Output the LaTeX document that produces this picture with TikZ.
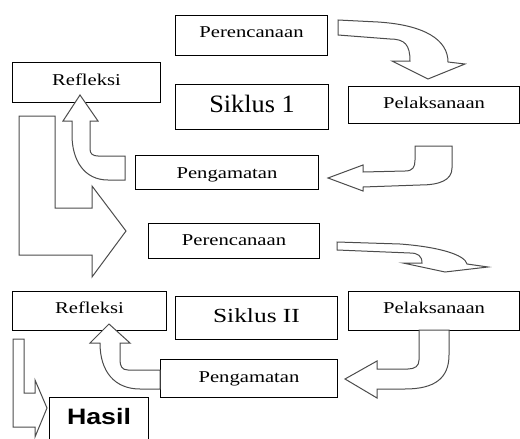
\documentclass[tikz,border=0pt]{standalone}
\usepackage{fontspec}
\usepackage{graphicx}
\setmainfont{Liberation Serif}
\newfontfamily\hasilfont{Liberation Sans}
\newcommand{\lebar}[2]{\scalebox{#1}[1]{#2}}
\tikzset{
	kotak/.style = {draw, line width=1pt, inner sep=0pt, anchor=north west,
		font=\fontsize{16.5}{18}\selectfont},
	panah/.style = {draw=black!70, fill=white, line width=1pt, line join=miter}
}
\begin{document}
\begin{tikzpicture}[x=1pt, y=-1pt]
%	\draw[help lines] (0,0) grid (520,439);
	\useasboundingbox (0,0) rectangle (520,439);
	% siklus I
	\node [kotak, minimum width=152pt, text height=22pt, text depth=18pt] (ren1) at (175,15) {\lebar{1.25}{Perencanaan}};
	\node [kotak, minimum width=148pt, text height=23pt, text depth=17pt] (ref1) at (12,62) {\lebar{1.25}{Refleksi}};
	\node [kotak, minimum width=153pt, text height=28pt, text depth=17pt, font=\fontsize{25}{28}\selectfont] (sik1) at (175,84) {\lebar{1.05}{Siklus 1}};
	\node [kotak, minimum width=171pt, text height=22pt, text depth=15pt] (pel1) at (348,86) {\lebar{1.25}{Pelaksanaan}};
	\node [kotak, minimum width=183pt, text height=23pt, text depth=11pt] (pen1) at (135,155) {\lebar{1.25}{Pengamatan}};
	% siklus II
	\node [kotak, minimum width=171pt, text height=22pt, text depth=13pt] (ren2) at (148,223) {\lebar{1.25}{Perencanaan}};
	\node [kotak, minimum width=154pt, text height=22pt, text depth=17pt] (ref2) at (12,291) {\lebar{1.25}{Refleksi}};
	\node [kotak, minimum width=162pt, text height=26pt, text depth=17pt, font=\fontsize{20}{24}\selectfont] (sik2) at (175,296) {\lebar{1.27}{Siklus II}};
	\node [kotak, minimum width=171pt, text height=22pt, text depth=17pt] (pel2) at (348,291) {\lebar{1.25}{Pelaksanaan}};
	\node [kotak, minimum width=177pt, text height=23pt, text depth=15pt] (pen2) at (160,359) {\lebar{1.25}{Pengamatan}};
	\node [kotak, minimum width=99pt, text height=27pt, text depth=21pt, font=\hasilfont\bfseries\fontsize{22.3}{26}\selectfont] (hasil) at (49,397) {\lebar{1.2}{Hasil}};
	% panah siklus I
	\draw [panah] (338,20) -- (378,22) .. controls (425,25) and (448,40) .. (448,62) -- (465,64) -- (428,79) -- (392,61) -- (410,61) .. controls (410,45) and (405,39) .. (390,39) -- (338,35) -- cycle;
	\draw [panah] (415,146) -- (452,146) -- (452,168) .. controls (452,180) and (440,185) .. (420,185) -- (363,187) -- (363,191) -- (328,178) -- (363,165) -- (363,172) -- (405,171) .. controls (413,171) and (415,167) .. (415,160) -- cycle;
	\draw [panah] (125,156) -- (125,180) -- (108,180) .. controls (84,180) and (72,160) .. (72,135) -- (72,121) -- (63,121) -- (80,95) -- (98,121) -- (90,121) -- (90,149) .. controls (90,154) and (93,156) .. (98,156) -- cycle;
	\draw [panah] (19,116) -- (55,116) -- (55,208) -- (92,208) -- (92,186) -- (126,231) -- (92,277) -- (92,255) -- (19,255) -- cycle;
	% panah siklus II
	\draw [panah] (337,242) -- (400,244) .. controls (440,247) and (465,255) .. (467,264) -- (488,267) -- (445,272) -- (403,263) -- (422,263) .. controls (422,256) and (418,253) .. (410,253) -- (337,250) -- cycle;
	\draw [panah] (419,330) -- (419,360) .. controls (419,366) and (415,369) .. (408,369) -- (377,369) -- (377,361) -- (345,379) -- (377,398) -- (377,389) -- (405,389) .. controls (435,389) and (449,378) .. (449,355) -- (449,330) -- cycle;
	\draw [panah] (160,370) -- (128,370) .. controls (122,370) and (120,366) .. (120,360) -- (120,343) -- (130,343) -- (109,324) -- (90,343) -- (100,343) .. controls (100,372) and (115,389) .. (140,389) -- (160,389) -- cycle;
	\draw [panah] (13,339) -- (24,339) -- (24,393) -- (35,393) -- (35,380) -- (47,408) -- (35,437) -- (35,427) -- (13,427) -- cycle;
\end{tikzpicture}
\end{document}
